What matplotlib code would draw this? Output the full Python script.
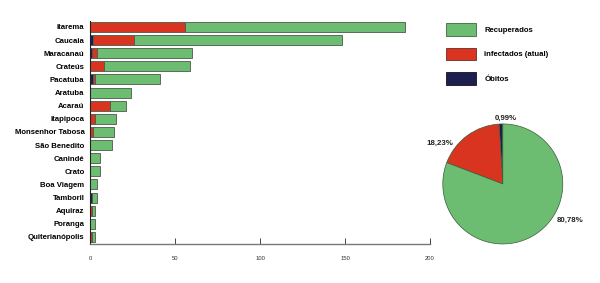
import matplotlib
matplotlib.use("Agg")
import matplotlib.pyplot as plt
import numpy as np
from matplotlib.patches import Patch

cities = ["Itarema", "Caucaia", "Maracanaú", "Crateús", "Pacatuba", "Aratuba",
          "Acaraú", "Itapipoca", "Monsenhor Tabosa", "São Benedito", "Canindé",
          "Crato", "Boa Viagem", "Tamboril", "Aquiraz", "Poranga", "Quiterianópolis"]
obitos = [0, 2, 1, 0, 2, 0, 0, 0, 0, 0, 0, 0, 0, 1, 0, 0, 0]
infectados = [56, 24, 3, 8, 1, 0, 12, 3, 2, 0, 0, 0, 0, 0, 1, 0, 1]
recuperados = [129, 122, 56, 51, 38, 24, 9, 12, 12, 13, 6, 6, 4, 3, 2, 3, 2]
x_ticks = [0, 50, 100, 150, 200]

pie_labels = ["0,99%", "18,23%", "80,78%"]
pie_values = [0.99, 18.23, 80.78]
legend_labels = ["Recuperados", "infectados (atual)", "Óbitos"]

c_green = "#6cbd72"
c_red = "#d93420"
c_dark = "#1d1f4f"
edge = "#4a5a4a"

plt.rcParams['font.family'] = ['Liberation Sans', 'DejaVu Sans']

fig = plt.figure(figsize=(6, 2.83), dpi=100)
ax = fig.add_axes([0.15, 0.138, 0.5667, 0.788])

y = np.arange(len(cities))
ob = np.array(obitos)
inf = np.array(infectados)
rec = np.array(recuperados)
h = 0.76
ax.barh(y, ob, height=h, color=c_dark, edgecolor=edge, linewidth=0.6)
ax.barh(y, inf, left=ob, height=h, color=c_red, edgecolor=edge, linewidth=0.6)
ax.barh(y, rec, left=ob + inf, height=h, color=c_green, edgecolor=edge, linewidth=0.6)

ax.set_ylim(len(cities) - 0.47, -0.46)
ax.set_xlim(0, 200)
ax.set_yticks(y)
ax.set_yticklabels(cities, fontsize=5.6, fontweight='bold')
ax.tick_params(axis='y', length=0, pad=4)
ax.set_xticks(x_ticks)
ax.set_xticklabels([str(t) for t in x_ticks], fontsize=4.2, color="#333333")
ax.tick_params(axis='x', direction='in', length=4, width=0.7, color="#444444", pad=9)
for s in ['top', 'right']:
    ax.spines[s].set_visible(False)
ax.spines['bottom'].set_color("#777777")
ax.spines['bottom'].set_linewidth(1.0)
ax.spines['left'].set_color("#222222")
ax.spines['left'].set_linewidth(0.8)

# pie
pax = fig.add_axes([0.738, 0.138, 0.2, 0.424])
wedges, texts = pax.pie(pie_values, colors=[c_dark, c_red, c_green], startangle=90,
                        counterclock=True,
                        wedgeprops=dict(edgecolor="#3a5a3a", linewidth=0.5))
pax.set_aspect('equal')
pax.set_xlim(-1, 1)
pax.set_ylim(-1, 1)
# label anchor positions relative to pie (radius units)
label_pos = [(0.05, 1.1), (-1.05, 0.67), (1.12, -0.6)]
for lab, (lx, ly) in zip(pie_labels, label_pos):
    pax.text(lx, ly, lab, fontsize=5.7, fontweight='bold',
             ha='center', va='center', color="#222222")

handles = [Patch(facecolor=c_green, edgecolor="#3a6a3a", linewidth=0.6),
           Patch(facecolor=c_red, edgecolor="#6a2a20", linewidth=0.6),
           Patch(facecolor=c_dark, edgecolor="#111122", linewidth=0.6)]
fig.legend(handles, legend_labels, loc='upper left', bbox_to_anchor=(446 / 600, 1 - 23 / 283),
           frameon=False, prop=dict(weight='bold', size=5.6),
           handlelength=3.9, handleheight=2.1, labelspacing=1.55, handletextpad=1.05,
           borderpad=0, borderaxespad=0)

fig.savefig("out.png", dpi=100)
